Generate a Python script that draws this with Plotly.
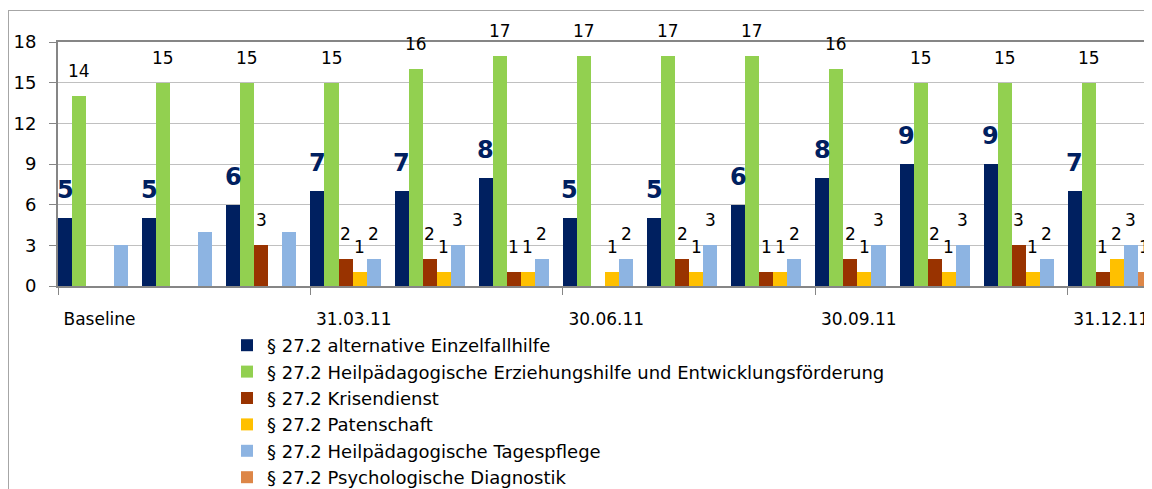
import plotly.graph_objects as go

# ---- data ----
groups = list(range(13))
tick_labels = ["Baseline", "31.03.11", "30.06.11", "30.09.11", "31.12.11"]
tick_group_starts = [0, 3, 6, 9, 12]

series_names = [
    "§ 27.2 alternative Einzelfallhilfe",
    "§ 27.2 Heilpädagogische Erziehungshilfe und Entwicklungsförderung",
    "§ 27.2 Krisendienst",
    "§ 27.2 Patenschaft",
    "§ 27.2 Heilpädagogische Tagespflege",
    "§ 27.2 Psychologische Diagnostik",
]
einzelfallhilfe = [5, 5, 6, 7, 7, 8, 5, 5, 6, 8, 9, 9, 7]
erziehungshilfe = [14, 15, 15, 15, 16, 17, 17, 17, 17, 16, 15, 15, 15]
krisendienst = [0, 0, 3, 2, 2, 1, 0, 2, 1, 2, 2, 3, 1]
patenschaft = [0, 0, 0, 1, 1, 1, 1, 1, 1, 1, 1, 1, 2]
tagespflege = [3, 4, 4, 2, 3, 2, 2, 3, 2, 3, 3, 2, 3]
diagnostik = [0, 0, 0, 0, 0, 0, 0, 0, 0, 0, 0, 0, 1]
# which groups carry a data label for Tagespflege (first three are unlabeled)
tagespflege_labeled = [False, False, False] + [True] * 10

colors = ["#002060", "#92D050", "#993300", "#FFC000", "#8DB4E2", "#DD8647"]

FONT = "DejaVu Sans"
all_series = [einzelfallhilfe, erziehungshilfe, krisendienst, patenschaft, tagespflege, diagnostik]

fig = go.Figure()
for name, vals, col in zip(series_names, all_series, colors):
    fig.add_trace(go.Bar(x=groups, y=vals, name=name, marker=dict(color=col, line=dict(width=0))))

# data labels
n = len(all_series)
annotations = []
for i, vals in enumerate(all_series):
    for g, v in zip(groups, vals):
        if v <= 0:
            continue
        if i == 4 and not tagespflege_labeled[g]:
            continue
        xpos = g + (i - (n - 1) / 2) / n
        if i == 0:
            annotations.append(dict(x=xpos, y=v, text=f"<b>{v}</b>", showarrow=False,
                                    xanchor="center", yanchor="bottom", yshift=12,
                                    font=dict(family=FONT, size=24, color="#002060")))
        else:
            annotations.append(dict(x=xpos, y=v, text=str(v), showarrow=False,
                                    xanchor="center", yanchor="bottom", yshift=13,
                                    font=dict(family=FONT, size=17, color="#000000")))

# page has an 8px body margin: figure coords = page coords - 8
OFF = 8
L, T = 58 - OFF, 42 - OFF
W, H = 1152 - OFF, 489 - OFF
PLOT_BOTTOM = 286 - OFF
B = H - PLOT_BOTTOM
pw = W - L
ph = H - T - B

def px_to_paper_x(px):
    return (px - OFF - L) / pw

def px_to_paper_y(py):
    return (PLOT_BOTTOM - (py - OFF)) / ph

shapes = [
    dict(type="line", xref="paper", yref="paper", x0=px_to_paper_x(8.5), x1=px_to_paper_x(8.5),
         y0=px_to_paper_y(10), y1=px_to_paper_y(500), line=dict(color="#A6A6A6", width=1)),
    dict(type="line", xref="paper", yref="paper", x0=px_to_paper_x(8.5), x1=px_to_paper_x(1170),
         y0=px_to_paper_y(10.5), y1=px_to_paper_y(10.5), line=dict(color="#A6A6A6", width=1)),
]

fig.update_layout(
    width=W, height=H,
    margin=dict(l=L, r=0, t=T, b=B, autoexpand=False),
    paper_bgcolor="white", plot_bgcolor="white",
    barmode="group", bargap=0, bargroupgap=0,
    font=dict(family=FONT, color="#000000"),
    annotations=annotations,
    shapes=shapes,
    legend=dict(x=px_to_paper_x(227), y=px_to_paper_y(327), xanchor="left", yanchor="top",
                font=dict(family=FONT, size=18, color="#000000"),
                bgcolor="rgba(0,0,0,0)", tracegroupgap=0),
    xaxis=dict(range=[-0.5, 12.5], tickvals=[g - 0.5 for g in tick_group_starts], ticktext=tick_labels,
               ticks="outside", ticklen=7, tickcolor="#868686", ticklabelposition="outside right",
               ticklabelshift=4, ticklabelstandoff=17,
               tickfont=dict(family=FONT, size=17, color="#000000"),
               showgrid=False, zeroline=False, showline=True, mirror=True,
               linecolor="#868686", linewidth=2),
    yaxis=dict(range=[0, 18], tickvals=[0, 3, 6, 9, 12, 15, 18],
               ticks="outside", ticklen=7, tickcolor="#868686", ticklabelstandoff=9,
               tickfont=dict(family=FONT, size=18, color="#000000"),
               showgrid=True, gridcolor="#C0C0C0", gridwidth=1, zeroline=False,
               showline=True, linecolor="#868686", linewidth=2),
)

fig.write_html("out.html")
